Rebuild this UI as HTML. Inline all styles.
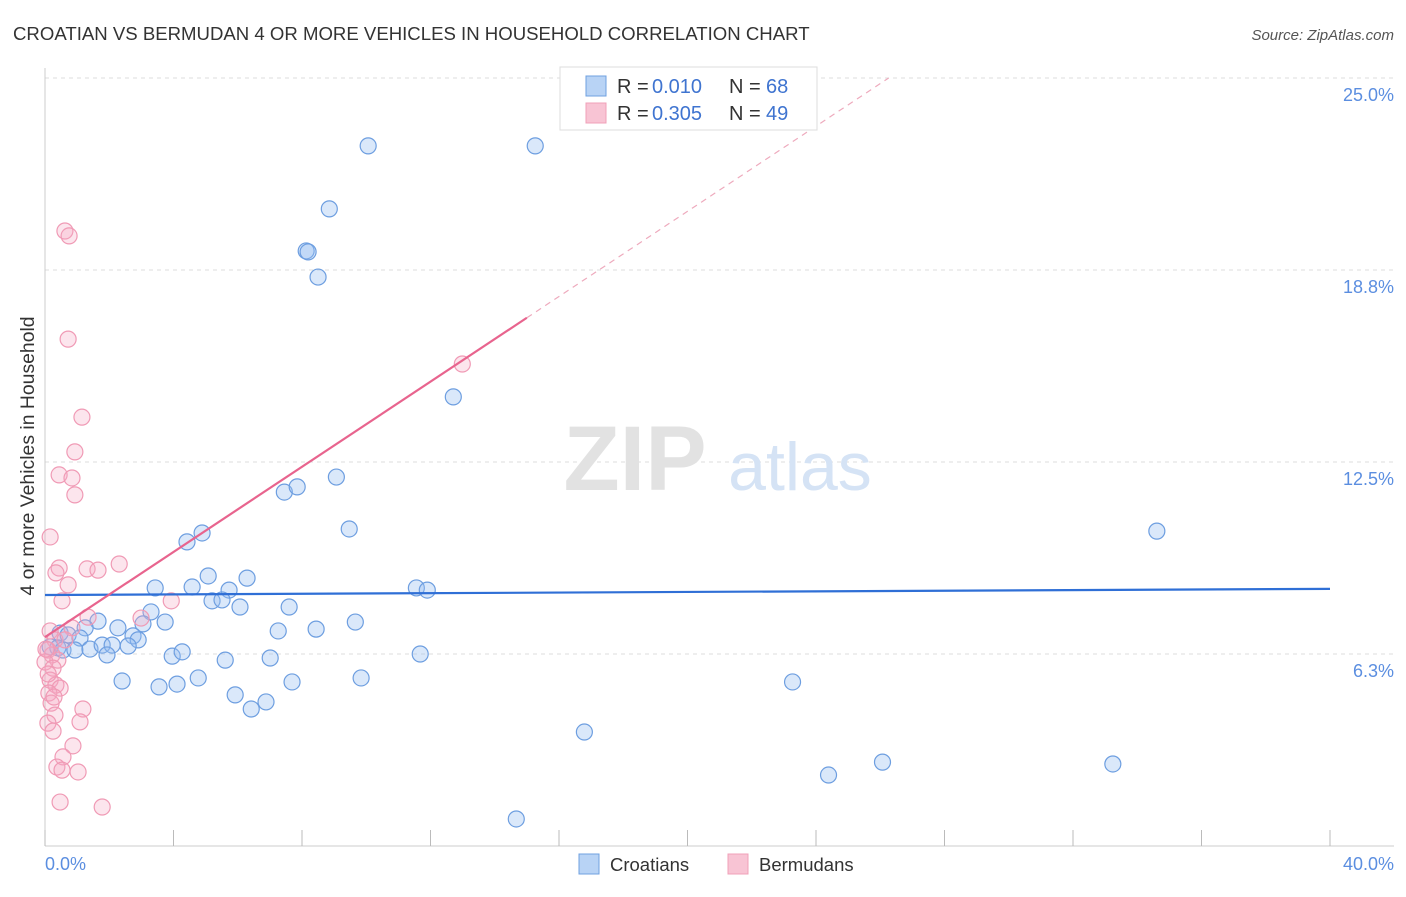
<!DOCTYPE html>
<html><head><meta charset="utf-8">
<style>
body{margin:0;background:#fff;font-family:"Liberation Sans",sans-serif;}
svg text{font-family:"Liberation Sans",sans-serif;}
</style></head>
<body>
<svg id="chart" width="1406" height="892" xmlns="http://www.w3.org/2000/svg">
<text x="13" y="40" font-size="18.6" fill="#333">CROATIAN VS BERMUDAN 4 OR MORE VEHICLES IN HOUSEHOLD CORRELATION CHART</text>
<text x="1394" y="40" font-size="15" fill="#555" text-anchor="end" font-style="italic">Source: ZipAtlas.com</text>
<g id="grid"></g>
<g id="wm">
<text x="635" y="490" font-size="92" fill="#e2e2e2" font-family="Liberation Serif" text-anchor="middle" font-weight="bold">ZIP</text>
<text x="800" y="490" font-size="68" fill="#d5e3f5" text-anchor="middle">atlas</text>
</g>
<g id="axes"></g>
<g id="pts"></g>
<g id="lines"></g>
<text transform="translate(34,456) rotate(-90)" font-size="19.4" fill="#333" text-anchor="middle">4 or more Vehicles in Household</text>
<text x="45" y="870" font-size="18" fill="#5b8ee0">0.0%</text>
<text x="1394" y="870" font-size="18" fill="#5b8ee0" text-anchor="end">40.0%</text>
<g>
<rect x="560" y="67" width="257" height="63" fill="#fff" stroke="#ddd"/>
<rect x="586" y="76" width="20" height="20" fill="#b8d3f5" stroke="#6fa0e0"/>
<rect x="586" y="103" width="20" height="20" fill="#f8c4d4" stroke="#f0a0b8"/>
<text x="617" y="93" font-size="20" fill="#333">R =</text>
<text x="652" y="93" font-size="20" fill="#3f74d0">0.010</text>
<text x="729" y="93" font-size="20" fill="#333">N =</text>
<text x="766" y="93" font-size="20" fill="#3f74d0">68</text>
<text x="617" y="120" font-size="20" fill="#333">R =</text>
<text x="652" y="120" font-size="20" fill="#3f74d0">0.305</text>
<text x="729" y="120" font-size="20" fill="#333">N =</text>
<text x="766" y="120" font-size="20" fill="#3f74d0">49</text>
</g>
<g>
<rect x="579" y="854" width="20" height="20" fill="#b8d3f5" stroke="#6fa0e0"/>
<text x="610" y="871" font-size="18.5" fill="#333">Croatians</text>
<rect x="728" y="854" width="20" height="20" fill="#f8c4d4" stroke="#f0a0b8"/>
<text x="759" y="871" font-size="18.5" fill="#333">Bermudans</text>
</g>
</svg>
<script>
const yTicks=[6.25,12.5,18.75,25];
const yTickLabels=["6.3%","12.5%","18.8%","25.0%"];
const xTicks=[0,4,8,12,16,20,24,28,32,36,40];
const blueX=[10.06,15.26,8.85,8.13,8.19,8.50,12.71,9.07,7.45,7.85,9.47,4.89,4.42,34.61,3.43,4.58,5.08,6.29,5.73,5.20,5.51,6.07,7.60,3.30,11.56,11.90,1.65,1.25,2.27,3.05,3.74,9.66,7.26,8.44,0.47,0.72,1.09,2.74,2.90,0.16,0.40,0.56,0.93,1.40,1.78,2.09,2.59,1.93,3.96,4.27,5.61,7.01,11.68,2.40,3.55,4.11,4.77,5.92,6.42,6.88,7.69,9.84,23.27,16.79,24.39,26.07,33.24,14.67];
const blueY=[22.79,22.79,20.74,19.37,19.34,18.52,14.62,12.01,11.52,11.69,10.32,10.19,9.90,10.25,8.40,8.43,8.79,8.72,8.33,7.98,8.01,7.78,7.78,7.62,8.40,8.33,7.32,7.10,7.10,7.23,7.29,7.29,7.00,7.06,6.93,6.87,6.77,6.84,6.71,6.48,6.45,6.38,6.38,6.41,6.54,6.54,6.51,6.22,6.18,6.32,6.05,6.12,6.25,5.37,5.18,5.27,5.47,4.92,4.46,4.69,5.34,5.47,5.34,3.71,2.31,2.73,2.67,0.88];
const pinkX=[0.62,0.75,0.72,1.15,0.93,0.44,0.84,0.93,0.16,0.44,0.34,1.31,1.65,2.31,0.72,0.53,3.93,12.99,1.34,2.99,0.84,0.16,0.31,0.62,0.09,0.22,0.40,0.00,0.25,0.16,0.34,0.47,0.12,0.19,1.18,0.31,0.09,1.09,0.25,0.87,0.56,0.37,0.53,1.03,0.47,1.78,0.03,0.28,0.10];
const pinkY=[20.02,19.86,16.50,13.96,12.83,12.08,11.98,11.43,10.06,9.05,8.89,9.02,8.98,9.18,8.50,7.98,7.98,15.69,7.45,7.42,7.10,7.00,6.71,6.71,6.38,6.22,6.05,5.99,5.79,5.40,5.24,5.14,4.98,4.65,4.46,4.26,4.00,4.04,3.74,3.26,2.90,2.57,2.47,2.41,1.43,1.27,6.41,4.85,5.60];
const blueLine=[8.17,8.37];
const pinkLine=[6.80,0.693];
const pinkSolidEnd=15.0;

const NS="http://www.w3.org/2000/svg";
const X=v=>45+v*(1285/40);
const Y=v=>846-v*30.72;
function mk(tag,attrs,parent){const e=document.createElementNS(NS,tag);for(const k in attrs)e.setAttribute(k,attrs[k]);parent.appendChild(e);return e;}
const grid=document.getElementById('grid'),axes=document.getElementById('axes'),pts=document.getElementById('pts'),lines=document.getElementById('lines');
yTicks.forEach((t,i)=>{
 const l=mk('line',{x1:45,x2:1394,y1:Y(t),y2:Y(t),stroke:'#ddd','stroke-dasharray':'4,4'},grid);
 
 
 const tx=mk('text',{x:1394,y:Y(t)+23,'font-size':18,fill:'#5b8ee0','text-anchor':'end'},axes);
 tx.textContent=yTickLabels[i];
 
 
});
const ax=mk('line',{x1:45,x2:1394,y1:846,y2:846,stroke:'#ccc'},axes);


const ay=mk('line',{x1:45,x2:45,y1:68,y2:846,stroke:'#ccc'},axes);


xTicks.forEach(t=>{
 const l=mk('line',{x1:X(t),x2:X(t),y1:830,y2:846,stroke:'#bbb'},axes);
 
 
});
blueX.forEach((v,i)=>{
 const c=mk('circle',{cx:X(v),cy:Y(blueY[i]),r:8,fill:'rgba(150,190,240,0.35)',stroke:'#6d9ee0','stroke-width':1.2},pts);
 
 
});
pinkX.forEach((v,i)=>{
 const c=mk('circle',{cx:X(v),cy:Y(pinkY[i]),r:8,fill:'rgba(245,170,195,0.3)',stroke:'#f09ab5','stroke-width':1.2},pts);
 
 
});
const bl=mk('line',{x1:X(0),y1:Y(blueLine[0]),x2:X(40),y2:Y(blueLine[1]),stroke:'#2f6fd6','stroke-width':2.2},lines);


const pf=x=>pinkLine[0]+pinkLine[1]*x;
const pl=mk('line',{x1:X(0),y1:Y(pf(0)),x2:X(pinkSolidEnd),y2:Y(pf(pinkSolidEnd)),stroke:'#e8648e','stroke-width':2.2},lines);


const xEnd=(25-pinkLine[0])/pinkLine[1];
const pd=mk('line',{x1:X(pinkSolidEnd),y1:Y(pf(pinkSolidEnd)),x2:X(xEnd),y2:Y(25),stroke:'#eeaabd','stroke-width':1.2,'stroke-dasharray':'6,5'},lines);


</script>
</body></html>
